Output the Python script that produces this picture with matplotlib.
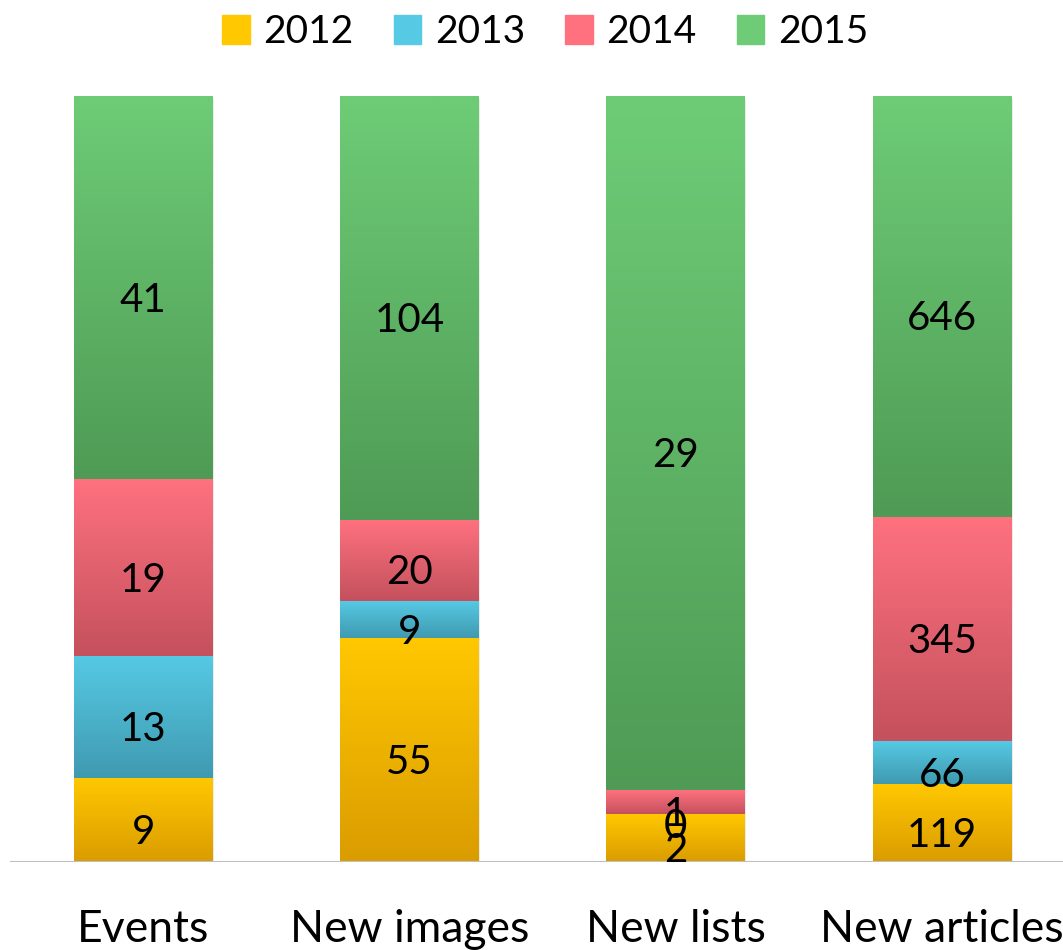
import numpy as np
import matplotlib.pyplot as plt
from matplotlib.colors import LinearSegmentedColormap
import matplotlib.patches as mpatches

plt.rcParams['font.family'] = ['Lato', 'DejaVu Sans']

# Dati
categories = ["Events", "New images", "New lists", "New articles"]
years = ["2012", "2013", "2014", "2015"]
v2012 = [9, 55, 2, 119]
v2013 = [13, 9, 0, 66]
v2014 = [19, 20, 1, 345]
v2015 = [41, 104, 29, 646]

# colori: (alto, basso) del gradiente
grad_colors = [("#FFC800", "#DA9C00"),
               ("#56C9E4", "#3F9AB0"),
               ("#FF717F", "#C4515D"),
               ("#6ECC76", "#4F9B55")]

series = np.array([v2012, v2013, v2014, v2015], dtype=float)
totals = series.sum(axis=0)
shares = series / totals

fig = plt.figure(figsize=(10.63, 9.5), dpi=100)
ax = fig.add_axes([10 / 1063, 88 / 950, 1065 / 1063, 766 / 950])

width = 0.52
x = np.arange(len(categories))
bottoms = np.zeros(len(categories))
grad = np.linspace(0, 1, 256).reshape(-1, 1)

for s, (top_c, bot_c) in enumerate(grad_colors):
    cmap = LinearSegmentedColormap.from_list(f"g{s}", [top_c, bot_c])
    for i in range(len(categories)):
        h = shares[s, i]
        b = bottoms[i]
        if h > 0:
            ax.imshow(grad, cmap=cmap, aspect='auto', origin='upper',
                      extent=(x[i] - width / 2, x[i] + width / 2, b, b + h),
                      zorder=2, interpolation='bilinear')
        # etichetta un po' più in basso, come nell'originale
        ax.annotate(f"{int(series[s, i])}", (x[i], b + h / 2), xytext=(0, -9),
                    textcoords='offset points', ha='center', va='center',
                    fontsize=29, color='black', zorder=5)
    bottoms += shares[s]

# ombra leggera delle barre
for i in range(len(categories)):
    ax.add_patch(mpatches.Rectangle((x[i] - width / 2 + 0.006, -0.004), width, 1.0,
                                    color='#000000', alpha=0.08, zorder=1, lw=0))

ax.set_xlim(-0.5, 3.5)
ax.set_ylim(0, 1)
ax.axhline(0, color='#BFBFBF', lw=1.5, zorder=3)
for sp in ax.spines.values():
    sp.set_visible(False)
ax.set_yticks([])
ax.set_xticks(x)
ax.set_xticklabels(categories, fontsize=32)
ax.tick_params(axis='x', length=0, pad=34)

handles = [mpatches.Patch(color=c[0], label=y) for c, y in zip(grad_colors, years)]
fig.legend(handles=handles, loc='upper center', bbox_to_anchor=(0.513, 1.022), ncol=4,
           frameon=False, fontsize=28, handlelength=0.7, handleheight=0.8,
           handletextpad=0.36, columnspacing=1.03)

fig.savefig("out.png", dpi=100, facecolor='white')
